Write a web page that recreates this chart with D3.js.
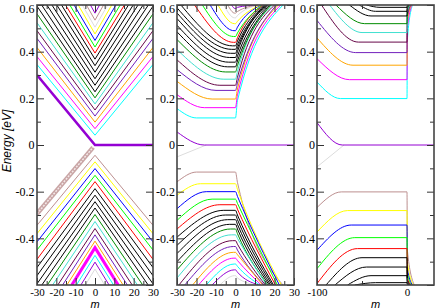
<!DOCTYPE html>
<html>
<head>
<meta charset="utf-8">
<script src="https://cdnjs.cloudflare.com/ajax/libs/d3/7.8.5/d3.min.js"></script>
<style>
  body { margin: 0; background: #fff; }
  svg { display: block; }
  .tick text { font-family: "Liberation Serif", "Times New Roman", serif; font-size: 12px; fill: #000; }
  .xax .tick text { font-size: 11px; }
  .tick line { stroke: #333; }
  .ttl { font-family: "Liberation Sans", Arial, sans-serif; font-style: italic; font-size: 11px; }
</style>
</head>
<body>
<svg id="chart" width="436" height="308"></svg>
<script>
// ---- tick values ----
const yTicks = [-0.4, -0.2, 0, 0.2, 0.4, 0.6];
const yMinor = [-0.5, -0.3, -0.1, 0.1, 0.3, 0.5];
const xTicksAB = [-30, -20, -10, 0, 10, 20, 30];
const xMinorAB = [-25, -15, -5, 5, 15, 25];
const xTicksC = [-100, 0];
const xMinorC = [-50];

// ---- panel (a): straight V levels, E at m=0 and at m=+-30 ----
const aUpVertex = [0.042, 0.070, 0.098, 0.124, 0.150, 0.176, 0.202, 0.228, 0.256, 0.284, 0.312, 0.340, 0.368, 0.394, 0.420, 0.448, 0.476, 0.505, 0.535, 0.565];
const aUpEdge   = [0.345, 0.379, 0.418, 0.457, 0.490, 0.524, 0.562, 0.595, 0.630, 0.665, 0.700, 0.735, 0.770, 0.800, 0.835, 0.870, 0.905, 0.940, 0.975, 1.010];
const aDnVertex = [-0.044, -0.072, -0.101, -0.130, -0.157, -0.187, -0.215, -0.243, -0.270, -0.298, -0.328, -0.358, -0.385, -0.412, -0.440, -0.473, -0.502, -0.532];
const aDnEdge   = [-0.344, -0.380, -0.415, -0.450, -0.490, -0.525, -0.560, -0.595, -0.630, -0.665, -0.700, -0.735, -0.770, -0.800, -0.835, -0.870, -0.905, -0.940];
// thick marked sets in (a)
const aViolet  = [[-30, 0.30], [0, 0.0], [30, 0.0]];
const aBrown   = [[-30, -0.295], [-1, -0.01]];
const aMagenta = [[-12, -0.60], [0, -0.44], [12, -0.60]];

// ---- panel (b) and (c): [m at left end, E there, knee m, E plateau (m=0-), E just after m=0, m where |E|=0.6] ----
const bUp = [
  [-30, 0.156, -20, 0.116, 0.190, 24.4], [-30, 0.216, -16, 0.160, 0.215, 23.2],
  [-30, 0.273, -12, 0.197, 0.240, 22.0], [-30, 0.323, -10, 0.234, 0.265, 21.0],
  [-30, 0.365, -8, 0.256, 0.290, 20.0],  [-30, 0.409, -6, 0.282, 0.315, 19.0],
  [-30, 0.452, -5, 0.313, 0.340, 18.2],  [-30, 0.485, -4, 0.335, 0.360, 17.5],
  [-30, 0.513, -3.5, 0.355, 0.380, 16.8], [-30, 0.542, -3, 0.375, 0.400, 16.2],
  [-30, 0.566, -2.5, 0.393, 0.415, 15.6], [-30, 0.588, -2, 0.410, 0.430, 15.0],
  [-28, 0.600, -1.5, 0.425, 0.445, 14.5], [-21, 0.600, -1, 0.440, 0.460, 14.0],
  [-17, 0.600, -1, 0.465, 0.480, 13.5],  [-13, 0.600, -0.8, 0.490, 0.505, 13.0],
  [-9, 0.600, -0.6, 0.520, 0.530, 12.5], [-6, 0.600, -0.5, 0.545, 0.555, 12.0],
  [-4, 0.600, -0.4, 0.565, 0.572, 11.5], [-2, 0.600, -0.3, 0.585, 0.590, 11.0]
];
const bDn = [
  [-30, -0.158, -20, -0.116, -0.160, 24.4], [-30, -0.215, -18, -0.166, -0.190, 23.5],
  [-30, -0.273, -15, -0.200, -0.220, 22.5], [-30, -0.323, -12, -0.232, -0.250, 21.5],
  [-30, -0.360, -8, -0.256, -0.275, 20.5],  [-30, -0.395, -6, -0.280, -0.300, 19.5],
  [-30, -0.430, -5, -0.300, -0.320, 18.8],  [-30, -0.465, -4, -0.320, -0.340, 18.0],
  [-30, -0.500, -3, -0.340, -0.360, 17.3],  [-30, -0.535, -2.5, -0.360, -0.380, 16.6],
  [-30, -0.570, -2, -0.385, -0.400, 16.0],  [-29, -0.600, -1.5, -0.410, -0.425, 15.3],
  [-26, -0.600, -1, -0.435, -0.450, 14.6],  [-22, -0.600, -1, -0.460, -0.470, 14.0],
  [-19, -0.600, -0.8, -0.485, -0.495, 13.2], [-15, -0.600, -0.6, -0.510, -0.520, 12.5],
  [-12, -0.600, -0.5, -0.535, -0.545, 11.8], [-8, -0.600, -0.5, -0.560, -0.570, 11.0]
];
const bZeroUp = [[-30, 0.056], [-16, 0.0], [30, 0.0]];
const bZeroDn = [[-30, -0.051], [-15, 0.0]];

const cUp = [
  [-100, 0.270, -74, 0.199, 0.45, 6.0], [-100, 0.370, -64, 0.280, 0.50, 5.5],
  [-100, 0.459, -60, 0.342, 0.53, 5.0], [-100, 0.534, -57, 0.396, 0.55, 4.5],
  [-95, 0.600, -54, 0.441, 0.56, 4.0],  [-86, 0.600, -50, 0.482, 0.57, 3.5],
  [-79, 0.600, -47, 0.520, 0.58, 3.0],  [-64, 0.600, -40, 0.553, 0.59, 2.5],
  [-53, 0.600, -35, 0.573, 0.595, 2.2], [-45, 0.600, -30, 0.590, 0.598, 2.0]
];
const cDn = [
  [-100, -0.268, -73, -0.201, -0.45, 8.0], [-100, -0.373, -66, -0.281, -0.50, 7.0],
  [-100, -0.451, -62, -0.343, -0.53, 6.0], [-100, -0.530, -58, -0.397, -0.55, 5.0],
  [-100, -0.594, -55, -0.444, -0.57, 4.5], [-90, -0.600, -50, -0.483, -0.58, 4.0],
  [-80, -0.600, -45, -0.523, -0.59, 3.5],  [-66, -0.600, -40, -0.560, -0.595, 3.0],
  [-58, -0.600, -35, -0.590, -0.598, 2.5]
];
const cZeroUp = [[-100, 0.096], [-72, 0.0], [30, 0.0]];
const cZeroDn = [[-100, -0.094], [-70, 0.0]];

// ---- colours (grace palette) ----
const K = "#000000", RED = "#ff0000", GRN = "#00ff00", BLU = "#0000ff", YEL = "#ffff00",
      BRN = "#bc8f8f", GRY = "#dcdcdc", VIO = "#9400d3", CYA = "#00ffff", MAG = "#ff00ff",
      ORA = "#ffa500", IND = "#7221bc", MAR = "#670748", TUR = "#40e0d0", GR4 = "#008b00";
const upColors = [CYA, MAG, ORA, IND, MAR, TUR, GR4, K, K, K, K, K, K, RED, GRN, BLU, YEL, GRY, BRN, VIO];
const dnColors = [BRN, YEL, BLU, GRN, RED, K, K, K, K, GR4, TUR, MAR, IND, ORA, MAG, CYA, VIO, GRY];

const svg = d3.select("#chart");
const y = d3.scaleLinear().domain([-0.6, 0.6]).range([285, 5]);

const panels = [
  { x: d3.scaleLinear().domain([-30, 30]).range([37, 153]), ticks: xTicksAB, minor: xMinorAB, pad: 2.5 },
  { x: d3.scaleLinear().domain([-30, 30]).range([177, 294]), ticks: xTicksAB, minor: xMinorAB, pad: 2 },
  { x: d3.scaleLinear().domain([-100, 30]).range([317, 434]), ticks: xTicksC, minor: xMinorC, pad: 2 }
];

const fmt = d => (d === 0 ? "0" : d3.format(".1f")(d).replace("−", "-"));

panels.forEach((p, i) => {
  const [x0, x1] = p.x.range();
  svg.append("clipPath").attr("id", "clip" + i)
    .append("rect").attr("x", x0).attr("y", 5).attr("width", x1 - x0).attr("height", 280);
  p.g = svg.append("g").attr("clip-path", `url(#clip${i})`);
  p.lin = d3.line().x(d => p.x(d[0])).y(d => y(d[1]));
  p.mono = d3.line().x(d => p.x(d[0])).y(d => y(d[1])).curve(d3.curveMonotoneX);
});

function draw(p, pts, color, width, curved) {
  return p.g.append("path")
    .attr("d", (curved ? p.mono : p.lin)(pts))
    .attr("fill", "none").attr("stroke", color).attr("stroke-width", width || 1);
}

// panel (a)
const pa = panels[0];
aUpVertex.forEach((v, i) => draw(pa, [[-30, aUpEdge[i]], [0, v], [30, aUpEdge[i]]], upColors[i]));
aDnVertex.forEach((v, i) => draw(pa, [[-30, aDnEdge[i]], [0, v], [30, aDnEdge[i]]], dnColors[i]));
draw(pa, aBrown, BRN, 4.5).attr("stroke-opacity", 0.8);
draw(pa, aBrown, "#f3e8e8", 1.5).attr("stroke-dasharray", "2,1.2");
draw(pa, aViolet, VIO, 2.6);
draw(pa, aMagenta, MAG, 3);

// panels (b) and (c)
function level(r, edge, jm) {
  return [[r[0], r[1]], [r[2], r[3]], [0, r[3]], [jm, r[4]], [r[5], edge]];
}
const pb = panels[1], pc = panels[2];
draw(pb, bZeroDn, GRY, 1, true);
draw(pb, bZeroUp, VIO, 1, true);
bUp.forEach((r, i) => draw(pb, level(r, 0.6, 1), upColors[i], 1, true));
bDn.forEach((r, i) => draw(pb, level(r, -0.6, 1), dnColors[i], 1, true));

draw(pc, cZeroDn, GRY, 1, true);
draw(pc, cZeroUp, VIO, 1, true);
cUp.forEach((r, i) => draw(pc, level(r, 0.6, 0.4), upColors[i], 1, true));
cDn.forEach((r, i) => draw(pc, level(r, -0.6, 0.4), dnColors[i], 1, true));

// axes and frames
panels.forEach(p => {
  const [x0, x1] = p.x.range();
  const ax = svg.append("g");
  const yl = ax.append("g").attr("transform", `translate(${x0},0)`)
    .call(d3.axisLeft(y).tickValues(yTicks).tickSize(-7).tickPadding(p.pad).tickFormat(fmt));
  // keep the top label inside the picture
  yl.selectAll(".tick text").filter(d => d === 0.6).attr("dy", "0.62em");
  ax.append("g").attr("transform", `translate(${x0},0)`)
    .call(d3.axisLeft(y).tickValues(yMinor).tickSize(-4).tickFormat(""));
  ax.append("g").attr("transform", `translate(${x1},0)`)
    .call(d3.axisRight(y).tickValues(yTicks.concat([-0.6])).tickSize(-7).tickFormat(""));
  ax.append("g").attr("transform", `translate(${x1},0)`)
    .call(d3.axisRight(y).tickValues(yMinor).tickSize(-4).tickFormat(""));
  ax.append("g").attr("class", "xax").attr("transform", "translate(0,285)")
    .call(d3.axisBottom(p.x).tickValues(p.ticks).tickSize(-7).tickPadding(3).tickFormat(d => String(d)));
  ax.append("g").attr("transform", "translate(0,285)")
    .call(d3.axisBottom(p.x).tickValues(p.minor).tickSize(-4).tickFormat(""));
  ax.append("g").attr("transform", "translate(0,5)")
    .call(d3.axisTop(p.x).tickValues(p.ticks).tickSize(-7).tickFormat(""));
  ax.append("g").attr("transform", "translate(0,5)")
    .call(d3.axisTop(p.x).tickValues(p.minor).tickSize(-4).tickFormat(""));
  ax.selectAll(".domain").remove();
  svg.append("rect").attr("x", x0).attr("y", 5).attr("width", x1 - x0).attr("height", 280)
    .attr("fill", "none").attr("stroke", "#444").attr("stroke-width", 1.6);
  svg.append("text").attr("class", "ttl").attr("x", (x0 + x1) / 2).attr("y", 307.5)
    .attr("text-anchor", "middle").text("m");
});

svg.append("text").attr("class", "ttl")
  .attr("transform", "translate(11,141) rotate(-90)")
  .attr("text-anchor", "middle").style("font-size", "12px").text("Energy [eV]");
</script>
</body>
</html>
